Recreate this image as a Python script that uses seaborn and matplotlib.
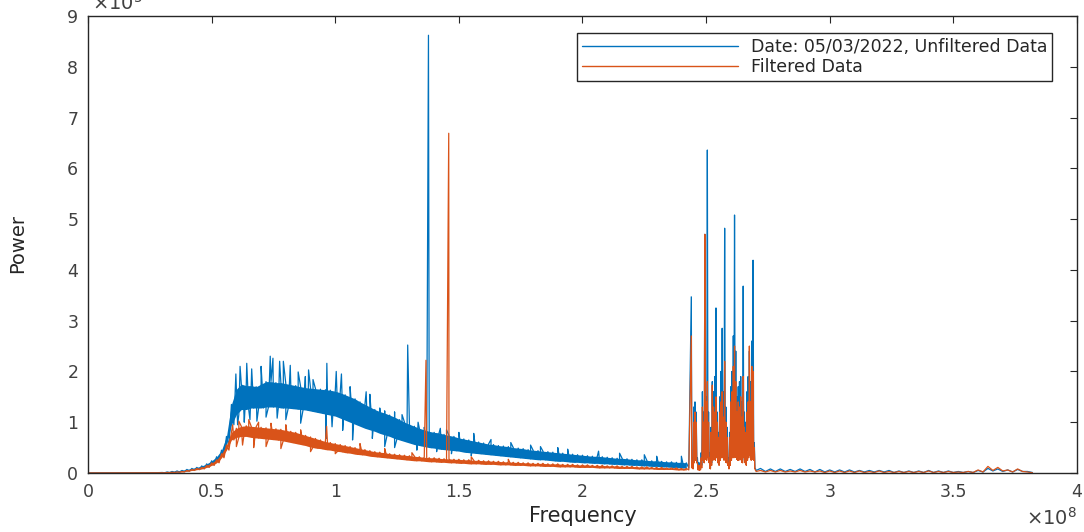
import numpy as np
import pandas as pd
import matplotlib
matplotlib.use("Agg")
import matplotlib.pyplot as plt
import seaborn as sns

# Power spectrum, frequency in units of 1e8 Hz
BLUE = "#0072BD"
ORANGE = "#D95319"

# flat start of the spectrum
lead_freq = [0.0, 0.1, 0.2, 0.28]
unf_lead = [0.003, 0.003, 0.004, 0.006]
flt_lead = [0.002, 0.002, 0.003, 0.004]

# broadband hump: 0.30 .. 2.42 in steps of 0.02, upper / lower edge of the dense noise core
band_start, band_stop, band_step = 0.30, 2.42, 0.02
unf_core_hi = [0.01, 0.02, 0.03, 0.04, 0.05, 0.07, 0.09, 0.11, 0.14, 0.18,
               0.24, 0.32, 0.45, 0.72, 1.35, 1.65, 1.75, 1.72, 1.72, 1.70,
               1.75, 1.80, 1.80, 1.78, 1.78, 1.76, 1.74, 1.72, 1.70, 1.68,
               1.67, 1.66, 1.65, 1.64, 1.63, 1.61, 1.58, 1.54, 1.50, 1.46,
               1.40, 1.35, 1.30, 1.25, 1.21, 1.18, 1.14, 1.10, 1.05, 1.00,
               0.96, 0.92, 0.88, 0.85, 0.82, 0.80, 0.79, 0.76, 0.74, 0.72,
               0.69, 0.67, 0.65, 0.63, 0.61, 0.59, 0.57, 0.56, 0.54, 0.53,
               0.52, 0.50, 0.49, 0.48, 0.46, 0.45, 0.44, 0.43, 0.42, 0.41,
               0.40, 0.39, 0.38, 0.37, 0.36, 0.35, 0.34, 0.33, 0.33, 0.32,
               0.31, 0.30, 0.29, 0.29, 0.28, 0.27, 0.26, 0.26, 0.25, 0.24,
               0.24, 0.23, 0.22, 0.22, 0.21, 0.21, 0.20]
unf_core_lo = [0.005, 0.01, 0.015, 0.02, 0.03, 0.04, 0.06, 0.07, 0.09, 0.12,
               0.16, 0.22, 0.33, 0.55, 0.95, 1.15, 1.25, 1.25, 1.28, 1.28,
               1.28, 1.30, 1.30, 1.30, 1.28, 1.28, 1.27, 1.26, 1.25, 1.24,
               1.22, 1.20, 1.18, 1.16, 1.14, 1.12, 1.08, 1.04, 1.00, 0.96,
               0.92, 0.88, 0.85, 0.82, 0.78, 0.75, 0.72, 0.68, 0.65, 0.62,
               0.59, 0.56, 0.54, 0.52, 0.50, 0.49, 0.47, 0.46, 0.45, 0.44,
               0.43, 0.41, 0.40, 0.39, 0.38, 0.37, 0.36, 0.35, 0.34, 0.33,
               0.32, 0.31, 0.30, 0.29, 0.28, 0.27, 0.26, 0.26, 0.25, 0.24,
               0.23, 0.23, 0.22, 0.21, 0.21, 0.20, 0.20, 0.19, 0.19, 0.18,
               0.18, 0.17, 0.17, 0.16, 0.16, 0.15, 0.15, 0.14, 0.14, 0.13,
               0.13, 0.12, 0.12, 0.11, 0.11, 0.10, 0.10]
flt_core_hi = [0.005, 0.01, 0.015, 0.02, 0.03, 0.05, 0.07, 0.09, 0.11, 0.15,
               0.20, 0.26, 0.38, 0.55, 0.80, 0.88, 0.92, 0.93, 0.92, 0.91,
               0.90, 0.89, 0.88, 0.87, 0.86, 0.84, 0.82, 0.80, 0.77, 0.74,
               0.71, 0.68, 0.65, 0.62, 0.60, 0.58, 0.56, 0.54, 0.52, 0.50,
               0.48, 0.46, 0.44, 0.42, 0.41, 0.40, 0.38, 0.37, 0.36, 0.35,
               0.34, 0.33, 0.32, 0.31, 0.30, 0.30, 0.29, 0.28, 0.28, 0.27,
               0.27, 0.26, 0.26, 0.25, 0.25, 0.24, 0.24, 0.23, 0.23, 0.22,
               0.22, 0.21, 0.21, 0.20, 0.20, 0.19, 0.19, 0.19, 0.18, 0.18,
               0.18, 0.17, 0.17, 0.17, 0.16, 0.16, 0.16, 0.15, 0.15, 0.15,
               0.14, 0.14, 0.14, 0.13, 0.13, 0.13, 0.12, 0.12, 0.12, 0.11,
               0.11, 0.11, 0.10, 0.10, 0.10, 0.09, 0.09]
flt_core_lo = [0.003, 0.008, 0.01, 0.015, 0.02, 0.035, 0.05, 0.065, 0.08, 0.11,
               0.15, 0.20, 0.30, 0.45, 0.65, 0.70, 0.72, 0.72, 0.70, 0.69,
               0.68, 0.67, 0.66, 0.65, 0.64, 0.62, 0.60, 0.58, 0.56, 0.54,
               0.51, 0.49, 0.48, 0.46, 0.45, 0.43, 0.42, 0.40, 0.39, 0.37,
               0.36, 0.35, 0.33, 0.32, 0.31, 0.30, 0.29, 0.28, 0.27, 0.26,
               0.25, 0.24, 0.24, 0.23, 0.22, 0.22, 0.21, 0.21, 0.20, 0.20,
               0.19, 0.19, 0.18, 0.18, 0.18, 0.17, 0.17, 0.17, 0.16, 0.16,
               0.16, 0.15, 0.15, 0.15, 0.14, 0.14, 0.14, 0.13, 0.13, 0.13,
               0.12, 0.12, 0.12, 0.12, 0.11, 0.11, 0.11, 0.11, 0.10, 0.10,
               0.10, 0.10, 0.09, 0.09, 0.09, 0.09, 0.08, 0.08, 0.08, 0.08,
               0.07, 0.07, 0.07, 0.07, 0.06, 0.06, 0.06]

# single-bin excursions out of the noise core
unf_up_freq = [0.598, 0.615, 0.642, 0.662, 0.700, 0.737, 0.748, 0.775, 0.790, 0.818,
               0.850, 0.879, 0.892, 0.910, 0.966, 1.004, 1.025, 1.06, 1.125, 1.14,
               1.18, 1.20, 1.24, 1.27, 1.335, 1.36, 1.425, 1.45, 1.50, 1.56,
               1.63, 1.71, 1.79, 1.83, 1.90, 1.94, 2.065, 2.15, 2.25, 2.30, 2.40]
unf_up_power = [1.95, 2.10, 2.16, 2.05, 2.10, 2.30, 2.26, 2.20, 2.20, 2.12,
                1.99, 1.90, 2.03, 1.84, 2.16, 2.00, 1.95, 1.70, 1.60, 1.55,
                1.28, 1.22, 1.20, 1.15, 1.00, 0.90, 0.88, 0.85, 0.80, 0.78,
                0.66, 0.60, 0.55, 0.52, 0.50, 0.47, 0.43, 0.39, 0.36, 0.33, 0.33]
unf_dip_freq = [0.605, 0.632, 0.655, 0.683, 0.720, 0.765, 0.800, 0.860, 0.963, 0.987,
                1.03, 1.07, 1.15, 1.20, 1.24, 1.33, 1.41, 1.47, 1.55]
unf_dip_power = [0.95, 1.00, 1.05, 1.02, 1.10, 1.08, 1.05, 0.98, 0.68, 0.91,
                 0.84, 0.65, 0.68, 0.52, 0.50, 0.45, 0.42, 0.38, 0.34]
flt_up_freq = [0.585, 0.610, 0.650, 0.690, 0.740, 0.800, 0.860, 0.965, 1.10, 1.20,
               1.31, 1.55, 1.70]
flt_up_power = [0.95, 1.02, 1.05, 1.00, 0.98, 0.95, 0.85, 0.92, 0.58, 0.48,
                0.40, 0.32, 0.27]
flt_dip_freq = [0.600, 0.625, 0.670, 0.720, 0.780, 0.900, 1.00]
flt_dip_power = [0.52, 0.55, 0.50, 0.52, 0.48, 0.42, 0.38]

# isolated spectral lines
unf_line_freq = [1.293, 1.377]
unf_line_power = [2.52, 8.62]
flt_line_freq = [1.367, 1.459]
flt_line_power = [2.22, 6.69]

# narrow-band cluster: 2.440 .. 2.700 in steps of 0.005, max / min within each bin
peak_start, peak_stop, peak_step = 2.440, 2.700, 0.005
unf_peak_hi = [3.47, 0.3, 1.3, 1.4, 1.2, 0.3, 0.2, 0.2, 0.4, 1.6,
               1.2, 4.7, 1.5, 6.36, 1.2, 0.4, 0.9, 1.8, 1.6, 1.9,
               3.25, 1.2, 0.8, 1.5, 2.0, 2.85, 1.6, 4.82, 1.3, 0.9,
               0.3, 0.8, 1.7, 2.0, 2.7, 5.08, 2.4, 1.5, 1.7, 1.8,
               1.9, 1.4, 3.68, 1.2, 1.0, 1.6, 1.9, 2.4, 1.8, 2.6,
               4.19, 0.6, 0.08]
unf_peak_lo = [0.15, 0.12, 0.3, 0.4, 0.25, 0.1, 0.08, 0.1, 0.15, 0.35,
               0.3, 0.4, 0.3, 0.35, 0.25, 0.1, 0.2, 0.3, 0.35, 0.3,
               0.4, 0.25, 0.2, 0.3, 0.35, 0.4, 0.3, 0.35, 0.25, 0.2,
               0.1, 0.2, 0.3, 0.35, 0.4, 0.45, 0.35, 0.3, 0.3, 0.35,
               0.3, 0.25, 0.35, 0.25, 0.2, 0.3, 0.35, 0.4, 0.3, 0.35,
               0.3, 0.1, 0.05]
flt_peak_hi = [2.7, 0.2, 1.0, 1.2, 1.0, 0.2, 0.15, 0.15, 0.3, 1.3,
               1.0, 4.7, 1.4, 1.8, 1.0, 0.3, 0.8, 1.73, 1.3, 1.2,
               1.5, 1.0, 0.7, 1.2, 1.4, 1.6, 1.1, 2.2, 1.0, 0.7,
               0.2, 0.7, 1.4, 1.6, 2.1, 2.5, 1.8, 1.2, 1.4, 1.3,
               1.5, 1.1, 1.9, 0.9, 0.8, 1.2, 1.4, 2.5, 1.4, 2.1,
               2.0, 0.5, 0.05]
flt_peak_lo = [0.1, 0.08, 0.2, 0.25, 0.2, 0.06, 0.05, 0.06, 0.1, 0.25,
               0.2, 0.3, 0.25, 0.3, 0.2, 0.08, 0.15, 0.25, 0.3, 0.25,
               0.3, 0.2, 0.15, 0.25, 0.3, 0.3, 0.25, 0.3, 0.2, 0.15,
               0.08, 0.15, 0.25, 0.3, 0.3, 0.35, 0.3, 0.25, 0.25, 0.3,
               0.25, 0.2, 0.3, 0.2, 0.15, 0.25, 0.3, 0.35, 0.25, 0.3,
               0.25, 0.08, 0.03]

# high-frequency tail: 2.72 .. 3.80 in steps of 0.04
tail_start, tail_stop, tail_step = 2.72, 3.80, 0.04
unf_tail_hi = [0.09, 0.08, 0.08, 0.07, 0.08, 0.07, 0.07, 0.06, 0.06, 0.06,
               0.05, 0.05, 0.05, 0.05, 0.04, 0.04, 0.04, 0.05, 0.04, 0.04,
               0.03, 0.03, 0.05, 0.09, 0.08, 0.06, 0.07, 0.03]
unf_tail_lo = [0.03, 0.03, 0.03, 0.03, 0.03, 0.02, 0.02, 0.02, 0.02, 0.02,
               0.02, 0.02, 0.02, 0.01, 0.01, 0.01, 0.01, 0.01, 0.01, 0.01,
               0.01, 0.01, 0.02, 0.04, 0.03, 0.02, 0.03, 0.01]
flt_tail_hi = [0.05, 0.05, 0.05, 0.04, 0.05, 0.04, 0.04, 0.04, 0.04, 0.04,
               0.04, 0.03, 0.04, 0.03, 0.03, 0.03, 0.03, 0.04, 0.03, 0.03,
               0.02, 0.03, 0.06, 0.13, 0.11, 0.06, 0.08, 0.02]
flt_tail_lo = [0.02, 0.02, 0.02, 0.02, 0.02, 0.02, 0.01, 0.01, 0.01, 0.01,
               0.01, 0.01, 0.01, 0.01, 0.01, 0.01, 0.01, 0.01, 0.01, 0.01,
               0.01, 0.01, 0.02, 0.05, 0.04, 0.02, 0.03, 0.005]

x_ticks = [0, 0.5, 1, 1.5, 2, 2.5, 3, 3.5, 4]
x_tick_labels = ["0", "0.5", "1", "1.5", "2", "2.5", "3", "3.5", "4"]
y_ticks = [0, 1, 2, 3, 4, 5, 6, 7, 8, 9]


def grid(start, stop, step):
    n = int(round((stop - start) / step)) + 1
    return np.round(start + step * np.arange(n), 4)


def noisy_trace(segments, points):
    """Alternate between upper and lower edge of each segment and merge in single points."""
    xs, ys = [], []
    for freq, hi, lo, half in segments:
        xs.append(np.column_stack([freq, freq + half]).ravel())
        ys.append(np.column_stack([hi, lo]).ravel())
    for f, p in points:
        xs.append(np.asarray(f, float))
        ys.append(np.asarray(p, float))
    x = np.concatenate(xs)
    y = np.concatenate(ys)
    order = np.argsort(x, kind="stable")
    return pd.DataFrame({"Frequency": x[order], "Power": y[order]})


band_f = grid(band_start, band_stop, band_step)
peak_f = grid(peak_start, peak_stop, peak_step)
tail_f = grid(tail_start, tail_stop, tail_step)

unf = noisy_trace(
    [(band_f, unf_core_hi, unf_core_lo, band_step / 2),
     (peak_f, unf_peak_hi, unf_peak_lo, peak_step / 2),
     (tail_f, unf_tail_hi, unf_tail_lo, tail_step / 2)],
    [(lead_freq, unf_lead), (unf_up_freq, unf_up_power),
     (unf_dip_freq, unf_dip_power), (unf_line_freq, unf_line_power)])
flt = noisy_trace(
    [(band_f, flt_core_hi, flt_core_lo, band_step / 2),
     (peak_f, flt_peak_hi, flt_peak_lo, peak_step / 2),
     (tail_f, flt_tail_hi, flt_tail_lo, tail_step / 2)],
    [(lead_freq, flt_lead), (flt_up_freq, flt_up_power),
     (flt_dip_freq, flt_dip_power), (flt_line_freq, flt_line_power)])

sns.set_style("white")
plt.rcParams["font.family"] = ["DejaVu Sans"]

fig = plt.figure(figsize=(10.84, 5.32), dpi=100)
ax = fig.add_axes([0.0812, 0.1109, 0.9123, 0.8591])

# dense noise core and per-bin ranges as filled areas, then the trace itself
ax.fill_between(band_f, unf_core_lo, unf_core_hi, color=BLUE, lw=0, zorder=1)
ax.fill_between(peak_f, unf_peak_lo, unf_peak_hi, step="mid", color=BLUE, lw=0, zorder=1)
sns.lineplot(data=unf, x="Frequency", y="Power", estimator=None, sort=False,
             color=BLUE, lw=0.9, ax=ax, label="Date: 05/03/2022, Unfiltered Data",
             zorder=2)
ax.fill_between(band_f, flt_core_lo, flt_core_hi, color=ORANGE, lw=0, zorder=3)
ax.fill_between(peak_f, flt_peak_lo, flt_peak_hi, step="mid", color=ORANGE, lw=0, zorder=3)
sns.lineplot(data=flt, x="Frequency", y="Power", estimator=None, sort=False,
             color=ORANGE, lw=0.9, ax=ax, label="Filtered Data", zorder=4)

ax.set_xlim(0, 4)
ax.set_ylim(0, 9)
ax.set_xticks(x_ticks)
ax.set_xticklabels(x_tick_labels)
ax.set_yticks(y_ticks)

tick_color = "#404040"
for side in ["left", "right", "top", "bottom"]:
    ax.spines[side].set_visible(True)
    ax.spines[side].set_color("#262626")
    ax.spines[side].set_linewidth(1.0)
    ax.spines[side].set_zorder(6)
ax.tick_params(axis="both", which="major", direction="in", length=5, width=0.8,
               top=True, right=True, color="#262626", labelcolor=tick_color,
               labelsize=12.5, pad=7)

ax.set_xlabel("Frequency", fontsize=15, color="#262626")
ax.xaxis.set_label_coords(0.5, -0.072)
ax.set_ylabel("Power", fontsize=14, color="#262626")
ax.yaxis.set_label_coords(-0.062, 0.503)

# axis multipliers
ax.text(1.0, -0.114, r"$\times10^{8}$", transform=ax.transAxes, ha="right",
        va="baseline", fontsize=14, color=tick_color)
ax.text(0.004, 1.014, r"$\times10^{5}$", transform=ax.transAxes, ha="left",
        va="baseline", fontsize=14, color=tick_color)

leg = ax.legend(loc="upper right", bbox_to_anchor=(0.975, 0.963), borderaxespad=0,
                fontsize=12.5, handlelength=9.0, handletextpad=0.7,
                labelspacing=0.1, borderpad=0.3, frameon=True, fancybox=False,
                framealpha=1.0, edgecolor="#262626")
leg.get_frame().set_linewidth(1.0)
leg.set_zorder(7)
for t in leg.get_texts():
    t.set_color("#262626")
for h in leg.get_lines():
    h.set_linewidth(1.0)

fig.savefig("out.png", dpi=100)
